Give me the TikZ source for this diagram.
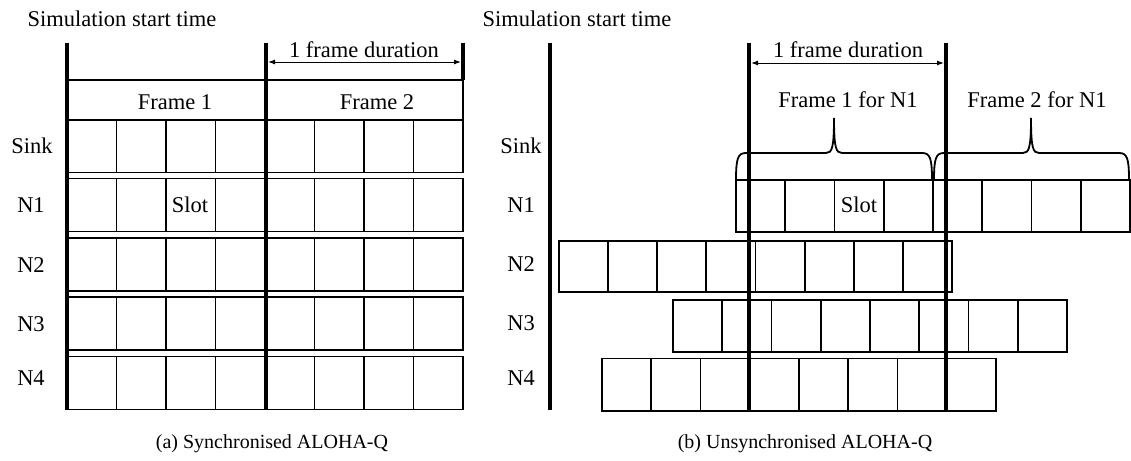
\documentclass[tikz,border=0pt]{standalone}
\usepackage{fontspec}
\setmainfont{Liberation Serif}
\usetikzlibrary{arrows.meta}
\begin{document}
\begin{tikzpicture}[x=1pt,y=-1pt,
  lbl/.style={inner sep=0pt, anchor=base, font=\fontsize{22.5}{27}\selectfont},
  captxt/.style={inner sep=0pt, anchor=base, font=\fontsize{20}{24}\selectfont},
  slotbox/.style={draw, line width=1.8pt, minimum width=49.5pt, minimum height=53pt, inner sep=0pt, outer sep=0pt, anchor=north west},
  rslot/.style={slotbox, minimum width=49.25pt, minimum height=52pt},
  hdr/.style={draw, line width=1.8pt, minimum height=40pt, inner sep=0pt, outer sep=0pt, anchor=north west},
  bar/.style={line width=4.2pt},
  dim/.style={line width=1pt, {Latex[length=7pt,width=5pt]}-{Latex[length=7pt,width=5pt]}},
  brc/.style={line width=1.8pt}]
\useasboundingbox (0,0) rectangle (1131,460);

% ---------------- (a) synchronised ----------------
\node[hdr, minimum width=199pt] (F1) at (67,80) {};
\node[hdr, minimum width=197pt] (F2) at (266,80) {};
\foreach \r/\y in {s/119.5,a/178.5,b/238,c/297,d/356.5}
  \foreach \k in {0,...,7}
    \node[slotbox] (L\r\k) at ({67+49.5*\k},\y) {};

\coordinate (LA0) at (67,43);  \coordinate (LA1) at (67,410);
\coordinate (LB0) at (266,43); \coordinate (LB1) at (266,410);
\coordinate (LC0) at (463,43); \coordinate (LC1) at (463,80);
\draw[bar] (LA0) -- (LA1);
\draw[bar] (LB0) -- (LB1);
\draw[bar] (LC0) -- (LC1);
\coordinate (LD0) at (268,62); \coordinate (LD1) at (461,62);
\draw[dim] (LD0) -- (LD1);

\node[lbl] (lsim) at (122,27) {Simulation start time};
\node[lbl] (ldur) at (364,57) {1 frame duration};
\node[lbl] (lf1) at (175,109) {Frame 1};
\node[lbl] (lf2) at (377,109) {Frame 2};
\node[lbl] (lsink) at (32,153) {Sink};
\node[lbl] (ln1) at (31,212) {N1};
\node[lbl] (ln2) at (31,272) {N2};
\node[lbl] (ln3) at (31,331) {N3};
\node[lbl] (ln4) at (31,385) {N4};
\node[lbl] (lslot) at (190,212) {Slot};
\node[captxt] (capa) at (272,448) {(a) Synchronised ALOHA-Q};

% ---------------- (b) unsynchronised ----------------
\foreach \k in {0,...,7}
  \node[rslot] (Ra\k) at ({736+49.25*\k},180) {};
\foreach \k in {0,...,7}
  \node[rslot, minimum height=51pt] (Rb\k) at ({559+49.1*\k},241) {};
\foreach \k in {0,...,7}
  \node[rslot] (Rc\k) at ({673+49.25*\k},300) {};
\foreach \k in {0,...,7}
  \node[rslot, minimum height=52.5pt] (Rd\k) at ({602+49.25*\k},358.5) {};

% braces
\draw[brc] (736,180) .. controls (736,158) and (738,153) .. (746,153)
  -- (826,153) .. controls (832,153) and (834,148) .. (834,118)
  .. controls (834,148) and (836,153) .. (842,153)
  -- (922,153) .. controls (930,153) and (932,158) .. (932,180);
\draw[brc] (934,180) .. controls (934,158) and (936,153) .. (944,153)
  -- (1023,153) .. controls (1029,153) and (1031,148) .. (1031,118)
  .. controls (1031,148) and (1033,153) .. (1039,153)
  -- (1119,153) .. controls (1127,153) and (1129,158) .. (1129,180);

\coordinate (RA0) at (550,43);  \coordinate (RA1) at (550,410);
\coordinate (RB0) at (749,43);  \coordinate (RB1) at (749,411);
\coordinate (RC0) at (946,43);  \coordinate (RC1) at (946,411);
\draw[bar] (RA0) -- (RA1);
\draw[bar] (RB0) -- (RB1);
\draw[bar] (RC0) -- (RC1);
\coordinate (RD0) at (751,63); \coordinate (RD1) at (944,63);
\draw[dim] (RD0) -- (RD1);

\node[lbl] (rsim) at (577,27) {Simulation start time};
\node[lbl] (rdur) at (848,57) {1 frame duration};
\node[lbl] (rf1) at (848,107) {Frame 1 for N1};
\node[lbl] (rf2) at (1037,107) {Frame 2 for N1};
\node[lbl] (rsink) at (521,153) {Sink};
\node[lbl] (rn1) at (521,212) {N1};
\node[lbl] (rn2) at (521,271) {N2};
\node[lbl] (rn3) at (521,330) {N3};
\node[lbl] (rn4) at (521,385) {N4};
\node[lbl] (rslot) at (859,212) {Slot};
\node[captxt] (capb) at (805,448) {(b) Unsynchronised ALOHA-Q};
\end{tikzpicture}
\end{document}
